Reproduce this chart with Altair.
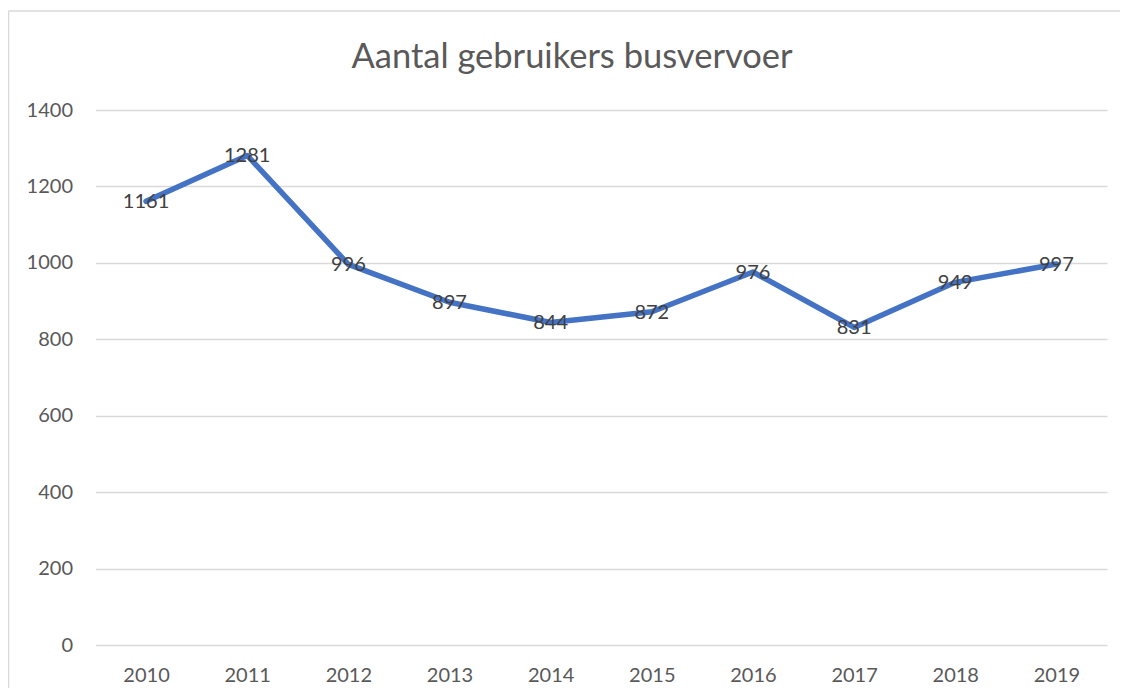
import altair as alt
import pandas as pd

years = ["2010", "2011", "2012", "2013", "2014", "2015", "2016", "2017", "2018", "2019"]
users = [1161, 1281, 996, 897, 844, 872, 976, 831, 949, 997]
y_ticks = [0, 200, 400, 600, 800, 1000, 1200, 1400]
title_text = "Aantal gebruikers busvervoer"

FONT = "Lato"
W, H = 1011.5, 535

df = pd.DataFrame({"jaar": years, "gebruikers": users})

x_enc = alt.X("jaar:N", sort=years,
              scale=alt.Scale(type="point", padding=0.5),
              axis=alt.Axis(title=None, labelAngle=0, grid=False, domain=False, ticks=False,
                            labelPadding=20, labelFontSize=20, labelColor="#595959", labelFont=FONT))
y_enc = alt.Y("gebruikers:Q", scale=alt.Scale(domain=[0, 1400], nice=False, zero=True),
              axis=alt.Axis(title=None, values=y_ticks, format="d", grid=True, gridColor="#D9D9D9",
                            gridWidth=1.5, domain=False, ticks=False, labelPadding=23, labelFontSize=20,
                            labelColor="#595959", labelFont=FONT))

base = alt.Chart(df)

line = base.mark_line(color="#4472C4", strokeWidth=5.5, strokeJoin="round", strokeCap="round").encode(
    x=x_enc, y=y_enc)

labels = base.mark_text(font=FONT, fontSize=20, color="#404040", align="center", baseline="middle", dy=1).encode(
    x=alt.X("jaar:N", sort=years), y=alt.Y("gebruikers:Q"), text=alt.Text("gebruikers:Q", format="d"))

one = alt.Chart(pd.DataFrame({"t": [title_text]}))

title = one.mark_text(font=FONT, fontSize=34.5, color="#595959", align="center", baseline="alphabetic").encode(
    x=alt.value(476.5), y=alt.value(-42), text="t:N")

border_left = one.mark_rule(color="#D9D9D9", strokeWidth=1.5).encode(
    x=alt.value(-87), y=alt.value(-99), y2=alt.value(600))
border_top = one.mark_rule(color="#D9D9D9", strokeWidth=1.5).encode(
    x=alt.value(-87), x2=alt.value(1040), y=alt.value(-99))

chart = alt.layer(border_left, border_top, title, line, labels).properties(
    width=W, height=H,
    autosize="none",
    padding={"left": 87.5, "top": 102, "right": 13, "bottom": 43},
    background="white",
).configure_view(stroke=None)

chart.save("out.html", embed_options={"renderer": "svg", "actions": False})
